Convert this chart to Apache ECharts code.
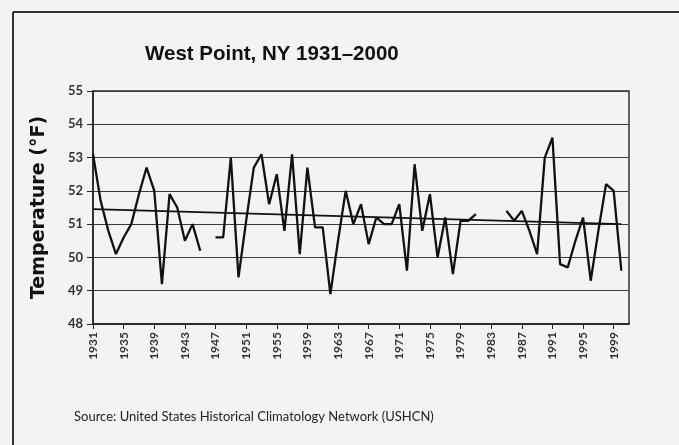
<!DOCTYPE html>
<html>
<head>
<meta charset="utf-8">
<script src="https://cdn.jsdelivr.net/npm/echarts@6/dist/echarts.min.js"></script>
<style>
  html, body { margin: 0; padding: 0; background: #f3f3f1; }
  #chart { width: 679px; height: 445px; }
</style>
</head>
<body>
<div id="chart"></div>
<script>
// years on the axis, 1931 to 2001 (2001 only pads the right edge)
var years = [];
for (var y = 1931; y <= 2001; y++) years.push(String(y));

// mean annual temperature (null = gap)
var temps = [
  53.1, 51.7, 50.8, 50.1, 50.6, 51.0, 51.9, 52.7, 52.0, 49.2, // 1931-1940
  51.9, 51.5, 50.5, 51.0, 50.2, null, 50.6, 50.6, 53.0, 49.4, // 1941-1950
  51.1, 52.7, 53.1, 51.6, 52.5, 50.8, 53.1, 50.1, 52.7, 50.9, // 1951-1960
  50.9, 48.9, 50.5, 52.0, 51.0, 51.6, 50.4, 51.2, 51.0, 51.0, // 1961-1970
  51.6, 49.6, 52.8, 50.8, 51.9, 50.0, 51.2, 49.5, 51.1, 51.1, // 1971-1980
  51.3, null, null, null, 51.4, 51.1, 51.4, 50.8, 50.1, 53.0, // 1981-1990
  53.6, 49.8, 49.7, 50.5, 51.2, 49.3, 50.8, 52.2, 52.0, 49.6, // 1991-2000
  null                                                        // 2001
];

// trend line ends (1931 and 2000)
var trendStart = 51.45;
var trendEnd = 51.0;
var trend = years.map(function (yr) {
  if (yr === '1931') return trendStart;
  if (yr === '2000') return trendEnd;
  return null;
});

var chart = echarts.init(document.getElementById('chart'));

var option = {
  backgroundColor: '#f3f3f1',
  animation: false,
  title: [
    {
      text: 'West Point, NY 1931\u20132000',
      left: 140,
      top: 39,
      textStyle: { fontFamily: 'Liberation Sans', fontWeight: 'bold', fontSize: 20.5, color: '#111' }
    },
    {
      text: 'Source: United States Historical Climatology Network (USHCN)',
      left: 69,
      top: 405,
      textStyle: { fontFamily: 'Lato', fontWeight: 'normal', fontSize: 13, color: '#222' }
    }
  ],
  graphic: [
    // outer frame of the figure (top and left edges)
    { type: 'line', shape: { x1: 13, y1: 12, x2: 679, y2: 12 }, style: { stroke: '#333', lineWidth: 2 } },
    { type: 'line', shape: { x1: 13, y1: 12, x2: 13, y2: 445 }, style: { stroke: '#333', lineWidth: 2 } }
  ],
  grid: {
    left: 93, right: 50, top: 91, bottom: 121,
    show: true, borderColor: '#333', borderWidth: 1.5, backgroundColor: 'transparent'
  },
  xAxis: {
    type: 'category',
    data: years,
    boundaryGap: false,
    axisLine: { lineStyle: { color: '#222', width: 1.5 } },
    axisTick: { interval: 3, length: 5, lineStyle: { color: '#222' } },
    axisLabel: {
      interval: 3, rotate: 90, margin: 8,
      fontFamily: 'Lato', fontWeight: 'bold', fontSize: 12, color: '#333'
    },
    splitLine: { show: false }
  },
  yAxis: {
    type: 'value',
    min: 48, max: 55, interval: 1,
    name: 'Temperature (\u00b0F)',
    nameLocation: 'middle',
    nameGap: 44,
    nameTextStyle: { fontFamily: 'DejaVu Sans', fontWeight: 'bold', fontSize: 19, color: '#111' },
    axisLine: { show: true, lineStyle: { color: '#222', width: 1.5 } },
    axisTick: { show: true, length: 6, lineStyle: { color: '#222' } },
    axisLabel: { margin: 10, fontFamily: 'Lato', fontWeight: 'bold', fontSize: 13, color: '#333' },
    splitLine: { lineStyle: { color: '#3a3a3a', width: 1.2 } }
  },
  series: [
    {
      type: 'line',
      data: temps,
      showSymbol: false,
      connectNulls: false,
      lineStyle: { color: '#111', width: 2.3 }
    },
    {
      type: 'line',
      data: trend,
      showSymbol: false,
      connectNulls: true,
      lineStyle: { color: '#111', width: 1.8 }
    }
  ]
};

chart.setOption(option);
</script>
</body>
</html>
